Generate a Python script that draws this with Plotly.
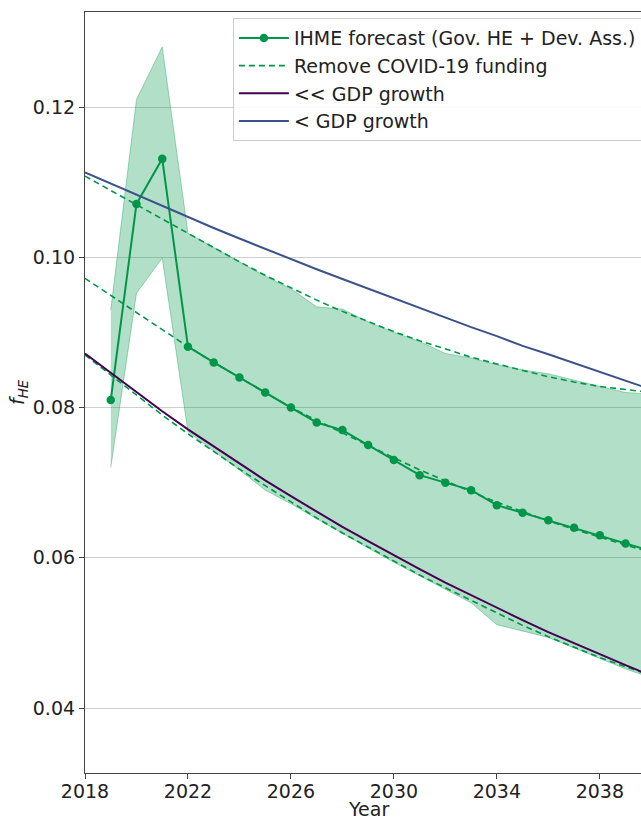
import plotly.graph_objects as go

years = list(range(2018, 2041))

# IHME forecast (starts 2019)
ihme_years = list(range(2019, 2041))
ihme = [0.0810, 0.1071, 0.1131, 0.0881, 0.0860, 0.0840, 0.0820, 0.0800, 0.0780,
        0.0770, 0.0750, 0.0730, 0.0710, 0.0700, 0.0690, 0.0670, 0.0660, 0.0650,
        0.0640, 0.0630, 0.0619, 0.0609]

# Uncertainty band (starts 2019)
band_upper = [0.0930, 0.1210, 0.1280, 0.1032, 0.1013, 0.0994, 0.0975, 0.0958,
              0.0934, 0.0931, 0.0914, 0.0900, 0.0888, 0.0872, 0.0866, 0.0857,
              0.0850, 0.0845, 0.0836, 0.0828, 0.0820, 0.0818]
band_lower = [0.0720, 0.0952, 0.0999, 0.0768, 0.0742, 0.0717, 0.0690, 0.0672,
              0.0652, 0.0632, 0.0613, 0.0594, 0.0576, 0.0559, 0.0540, 0.0511,
              0.0502, 0.0494, 0.0480, 0.0466, 0.0452, 0.0440]

# Remove COVID-19 funding (central, upper, lower), 2018-2040
nocovid_mid = [0.0972, 0.0949, 0.0926, 0.0903, 0.0881, 0.0860, 0.0840, 0.0820,
               0.0800, 0.0783, 0.0766, 0.0749, 0.0733, 0.0717, 0.0702, 0.0688,
               0.0674, 0.0661, 0.0649, 0.0638, 0.0627, 0.0617, 0.0607]
nocovid_up = [0.1108, 0.1089, 0.1069, 0.1050, 0.1031, 0.1012, 0.0994, 0.0976,
              0.0959, 0.0943, 0.0928, 0.0914, 0.0901, 0.0889, 0.0878, 0.0867,
              0.0858, 0.0849, 0.0841, 0.0834, 0.0828, 0.0824, 0.0820]
nocovid_lo = [0.0870, 0.0843, 0.0816, 0.0790, 0.0765, 0.0741, 0.0718, 0.0696,
              0.0674, 0.0653, 0.0633, 0.0614, 0.0595, 0.0577, 0.0560, 0.0543,
              0.0526, 0.0510, 0.0495, 0.0481, 0.0467, 0.0455, 0.0443]

# GDP growth scenarios, 2018-2040
gdp_much_less = [0.0872, 0.0846, 0.0820, 0.0795, 0.0771, 0.0748, 0.0725, 0.0703,
                 0.0682, 0.0661, 0.0641, 0.0622, 0.0603, 0.0585, 0.0567, 0.0550,
                 0.0533, 0.0517, 0.0501, 0.0486, 0.0471, 0.0457, 0.0443]
gdp_less = [0.1113, 0.1098, 0.1083, 0.1068, 0.1054, 0.1039, 0.1025, 0.1011,
            0.0998, 0.0984, 0.0971, 0.0958, 0.0945, 0.0932, 0.0919, 0.0907,
            0.0895, 0.0882, 0.0871, 0.0859, 0.0847, 0.0836, 0.0824]

x_ticks = [2018, 2022, 2026, 2030, 2034, 2038]
y_ticks = [0.04, 0.06, 0.08, 0.10, 0.12]
y_tick_labels = ["0.04", "0.06", "0.08", "0.10", "0.12"]
x_title = "Year"

GREEN = "#009649"
FILL = "rgba(0,150,70,0.30)"
FILL_EDGE = "rgba(0,150,70,0.35)"
PURPLE = "#440154"
BLUE = "#3b528b"
FONT = "DejaVu Sans"
FS = 19

fig = go.Figure()

fig.add_trace(go.Scatter(x=ihme_years, y=band_upper, mode="lines",
                         line=dict(color=FILL_EDGE, width=1),
                         showlegend=False, hoverinfo="skip"))
fig.add_trace(go.Scatter(x=ihme_years, y=band_lower, mode="lines",
                         line=dict(color=FILL_EDGE, width=1),
                         fill="tonexty", fillcolor=FILL,
                         showlegend=False, hoverinfo="skip"))

fig.add_trace(go.Scatter(x=ihme_years, y=ihme, mode="lines+markers",
                         line=dict(color=GREEN, width=2),
                         marker=dict(color=GREEN, size=8.5),
                         name="IHME forecast (Gov. HE + Dev. Ass.)"))

fig.add_trace(go.Scatter(x=years, y=nocovid_mid, mode="lines",
                         line=dict(color=GREEN, width=1.6, dash="6px,4px"),
                         name="Remove COVID-19 funding", legendgroup="nc"))
fig.add_trace(go.Scatter(x=years, y=nocovid_up, mode="lines",
                         line=dict(color=GREEN, width=1.6, dash="6px,4px"),
                         name="Remove COVID-19 funding", legendgroup="nc",
                         showlegend=False))
fig.add_trace(go.Scatter(x=years, y=nocovid_lo, mode="lines",
                         line=dict(color=GREEN, width=1.6, dash="6px,4px"),
                         name="Remove COVID-19 funding", legendgroup="nc",
                         showlegend=False))

fig.add_trace(go.Scatter(x=years, y=gdp_much_less, mode="lines",
                         line=dict(color=PURPLE, width=2),
                         name="<< GDP growth"))
fig.add_trace(go.Scatter(x=years, y=gdp_less, mode="lines",
                         line=dict(color=BLUE, width=2),
                         name="< GDP growth"))

fig.update_layout(
    width=641, height=820,
    margin=dict(l=85, r=0, t=12, b=47, autoexpand=False),
    paper_bgcolor="white", plot_bgcolor="white",
    font=dict(family=FONT, size=FS, color="#222"),
    showlegend=True,
    legend=dict(x=0.266, y=0.992, xanchor="left", yanchor="top",
                bgcolor="rgba(255,255,255,0.85)", bordercolor="#cccccc",
                borderwidth=1, font=dict(size=FS, family=FONT),
                itemwidth=50, tracegroupgap=0),
    xaxis=dict(range=[2018, 2039.6], tickvals=x_ticks,
               ticktext=[str(v) for v in x_ticks],
               showgrid=False, zeroline=False, automargin=False,
               showline=True, linecolor="#444", linewidth=1.2, mirror=True,
               ticks="outside", ticklen=5, tickcolor="#444",
               ticklabelstandoff=-4,
               tickfont=dict(size=FS)),
    yaxis=dict(range=[0.03135, 0.13265], tickvals=y_ticks,
               ticktext=y_tick_labels, automargin=False,
               showgrid=True, gridcolor="#cfcfcf", gridwidth=1.2,
               zeroline=False,
               showline=True, linecolor="#444", linewidth=1.2, mirror=True,
               ticks="outside", ticklen=5, tickcolor="#444",
               tickfont=dict(size=FS),
               title=dict(text="<i>f</i><sub><i>HE</i></sub>",
                          font=dict(size=FS), standoff=3)),
    annotations=[dict(text=x_title, xref="paper", yref="paper",
                      x=0.51, y=-0.0475, xanchor="center", yanchor="middle",
                      showarrow=False, font=dict(size=FS, family=FONT,
                                                 color="#222"))],
)

fig.write_html(
    "out.html",
    config={"displayModeBar": False},
    post_script="document.body.style.margin='0';"
                "document.documentElement.style.overflow='hidden';",
)
